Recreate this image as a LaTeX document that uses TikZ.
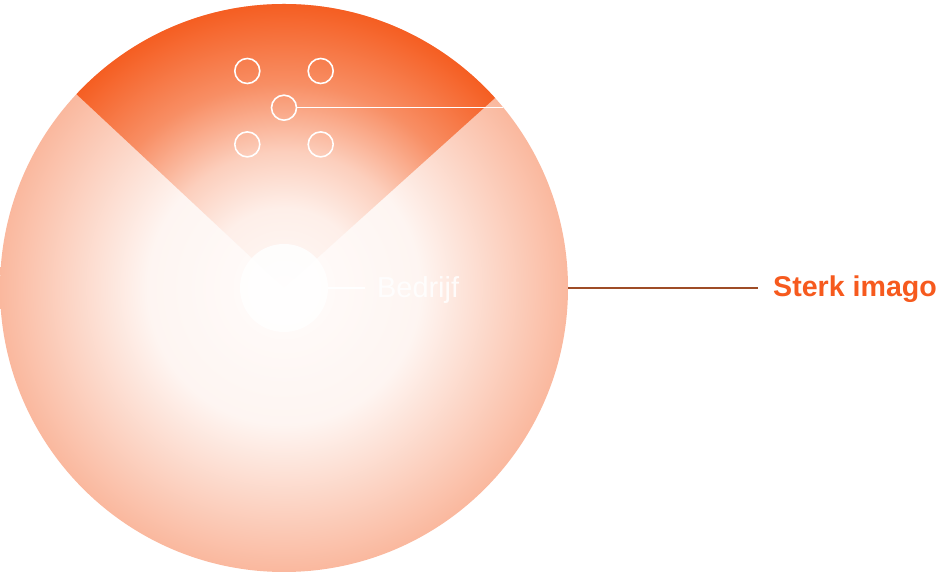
\documentclass[tikz,border=0pt]{standalone}
\usepackage{fontspec}
\setmainfont{Liberation Sans}
\usepackage{xcolor}
\usetikzlibrary{positioning}

\definecolor{peach}{RGB}{250,184,158}
\definecolor{ember}{RGB}{245,94,34}
\definecolor{rust}{RGB}{158,76,38}
\definecolor{tangerine}{RGB}{246,90,30}

% radiale verlopen voor bol en wig
\pgfdeclareradialshading{globeglow}{\pgfpoint{0bp}{0bp}}{color(0bp)=(peach!4); color(12bp)=(peach!14); color(25bp)=(peach); color(50bp)=(peach)}
\pgfdeclareradialshading{wedgeglow}{\pgfpoint{0bp}{0bp}}{color(0bp)=(ember!4); color(7bp)=(ember!10); color(12bp)=(ember!30); color(18bp)=(ember!70); color(25bp)=(ember); color(50bp)=(ember)}

\begin{document}
\begin{tikzpicture}[
    x=1bp, y=1bp,
    globe/.style={circle, minimum size=568bp, inner sep=0pt, shading=globeglow},
    core/.style={circle, fill=white, fill opacity=0.85, minimum size=88bp, inner sep=0pt},
    dot/.style={circle, draw=white, line width=1.6bp, minimum size=25bp, inner sep=0pt},
    whiteline/.style={draw=white, line width=1.6bp},
    rustline/.style={draw=rust, line width=1.6bp},
    soft/.style={text=white, text opacity=0.85, inner sep=0pt, font=\fontsize{29}{34}\selectfont},
    headline/.style={text=tangerine, inner sep=0pt, font=\fontsize{28.7}{34}\selectfont\bfseries}
]
    \useasboundingbox (0,0) rectangle (944,572);

    % Bol met wig
    \node (globe) [globe] at (284,284) {};
    \begin{scope}
        \clip (globe.center) -- (globe.42) arc[start angle=42, end angle=137, radius=284] -- cycle;
        \shade[shading=wedgeglow] (globe.center) circle[radius=284];
    \end{scope}
    \node (core) [core] at (globe.center) {};

    % Stippen in de wig
    \node (mid) [dot] at (284,464.3) {};
    \node (tl) [dot, on grid, above left=36.7bp and 36.7bp of mid] {};
    \node (tr) [dot, on grid, above right=36.7bp and 36.7bp of mid] {};
    \node (bl) [dot, on grid, below left=36.7bp and 36.7bp of mid] {};
    \node (br) [dot, on grid, below right=36.7bp and 36.7bp of mid] {};
    \coordinate (rim) at (503,464.3);

    % Labels
    \node (bedrijf) [soft, anchor=base west] at (377,274) {Bedrijf};
    \node (imago) [headline, anchor=base west] at (773,275) {Sterk imago};

    % Lijnen
    \draw [whiteline] (mid) -- (rim);
    \draw [whiteline] (core) -- ([xshift=-12bp]bedrijf.west |- core.east);
    \draw [rustline] (globe.east) -- ([xshift=-15bp]imago.west |- globe.east);

\end{tikzpicture}
\end{document}
